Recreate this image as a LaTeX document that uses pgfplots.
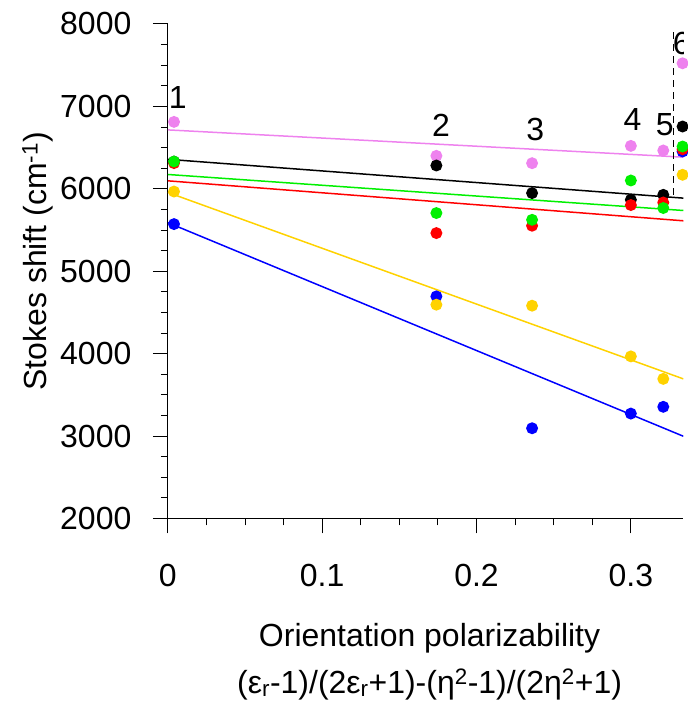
\documentclass[border=0pt]{standalone}
\usepackage{pgfplots}
\pgfplotsset{compat=1.18}
\usepackage{fontspec}
\setmainfont{Liberation Sans}
\definecolor{cViolet}{RGB}{238,130,238}
\definecolor{cGold}{RGB}{255,210,0}
\definecolor{cGreen}{RGB}{0,240,0}
\definecolor{cRed}{RGB}{255,0,0}
\definecolor{cBlue}{RGB}{0,0,255}

% measured points (solvents 1-6)
\pgfplotstableread{
x y
0.004 6812
0.174 6400
0.236 6311
0.300 6521
0.321 6465
0.3335 7523
}\violetpts
\pgfplotstableread{
x y
0.004 6330
0.174 6283
0.236 5948
0.300 5867
0.321 5927
0.3335 6756
}\blackpts
\pgfplotstableread{
x y
0.004 5572
0.174 4695
0.236 3095
0.300 3273
0.321 3355
0.3335 6453
}\bluepts
\pgfplotstableread{
x y
0.004 5967
0.174 4594
0.236 4582
0.300 3967
0.321 3694
0.3335 6170
}\goldpts
\pgfplotstableread{
x y
0.004 6312
0.174 5463
0.236 5552
0.300 5803
0.321 5834
0.3335 6480
}\redpts
\pgfplotstableread{
x y
0.004 6331
0.174 5706
0.236 5624
0.300 6101
0.321 5767
0.3335 6513
}\greenpts

\begin{document}
\begin{tikzpicture}
\begin{axis}[
  scale only axis, width=516pt, height=495pt,
  xmin=0, xmax=0.334, ymin=2000, ymax=8000,
  axis lines*=left,
  tick align=outside,
  major tick length=15pt, minor tick length=7pt,
  xtick={0,0.1,0.2,0.3}, xticklabels={0,0.1,0.2,0.3},
  minor x tick num=3,
  ytick={2000,3000,...,8000}, minor y tick num=3,
  yticklabel style={/pgf/number format/1000 sep={}, /pgf/number format/assume math mode=true, xshift=-18pt},
  xticklabel style={yshift=-27pt},
  every tick/.style={black, line width=1pt},
  axis line style={line width=1.1pt},
  font=\fontsize{32}{38}\selectfont,
  xlabel={Orientation polarizability\\(ε\textsubscript{r}-1)/(2ε\textsubscript{r}+1)-(η\textsuperscript{2}-1)/(2η\textsuperscript{2}+1)},
  xlabel style={align=center, font=\fontsize{32}{47}\selectfont, at={(axis description cs:0.5,0)}, anchor=north, xshift=4pt, yshift=-101pt},
  ylabel={Stokes shift (cm\textsuperscript{-1})},
  ylabel style={xshift=10pt},
  every axis plot/.append style={line width=1.5pt},
]
% linear fits
\addplot[cViolet, no marks] coordinates {(0,6715) (0.334,6384)};
\addplot[black, no marks] coordinates {(0,6358) (0.334,5887)};
\addplot[cGreen, no marks] coordinates {(0,6174) (0.334,5737)};
\addplot[cRed, no marks] coordinates {(0,6097) (0.334,5612)};
\addplot[cGold, no marks] coordinates {(0,5956) (0.334,3694)};
\addplot[cBlue, no marks] coordinates {(0,5590) (0.334,2998)};
% points
\addplot[only marks, mark=*, mark size=5.2pt, cViolet] table {\violetpts};
\addplot[only marks, mark=*, mark size=5.2pt, black] table {\blackpts};
\addplot[only marks, mark=*, mark size=5.2pt, cBlue] table {\bluepts};
\addplot[only marks, mark=*, mark size=5.2pt, cGold] table {\goldpts};
\addplot[only marks, mark=*, mark size=5.2pt, cRed] table {\redpts};
\addplot[only marks, mark=*, mark size=5.2pt, cGreen] table {\greenpts};
\draw[black, line width=1.1pt, dash pattern=on 7pt off 5pt] (axis cs:0.3277,7900) -- (axis cs:0.3277,5880);
\node at (axis cs:0.0065,7103) {1};
\node at (axis cs:0.177,6776) {2};
\node at (axis cs:0.238,6724) {3};
\node at (axis cs:0.301,6836) {4};
\node at (axis cs:0.322,6776) {5};
\node[overlay] at (axis cs:0.3330,7766) {6};
\end{axis}
\path (current axis.south west) ++(-168pt,-184pt);
\path (current axis.north east) ++(0pt,24pt);
\end{tikzpicture}
\end{document}
